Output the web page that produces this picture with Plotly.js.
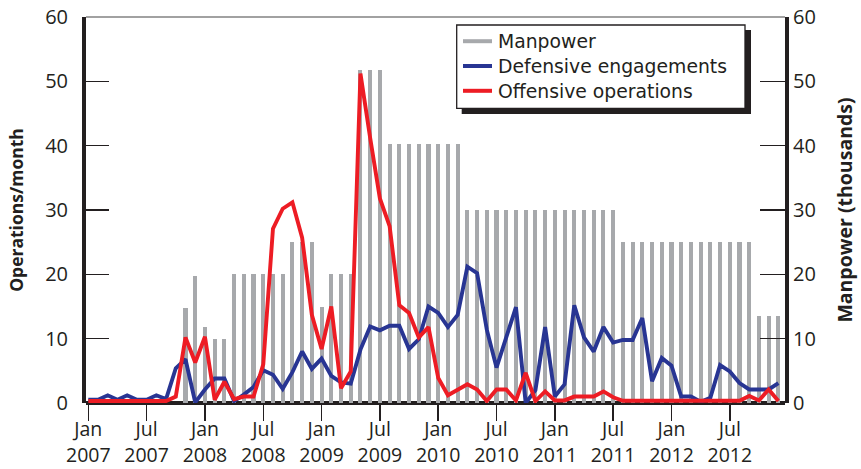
<!DOCTYPE html>
<html>
<head>
<meta charset="utf-8">
<script src="https://cdn.plot.ly/plotly-3.0.1.min.js"></script>
<style>
html,body{margin:0;padding:0;background:#fff;}
#chart{width:861px;height:469px;}
</style>
</head>
<body>
<div id="chart"></div>
<script>
// Months Jan 2007 .. Dec 2012 (categories)
const monthNames = ['Jan','Feb','Mar','Apr','May','Jun','Jul','Aug','Sep','Oct','Nov','Dec'];
const years = [2007, 2008, 2009, 2010, 2011, 2012];
const months = [];
years.forEach(y => monthNames.forEach(m => months.push(m + ' ' + y)));

// Manpower (thousands), monthly
const manpower = [
  0, 0, 0, 0, 0, 0, 0, 0, 0, 0, 14.8, 19.8,
  11.8, 10, 10, 20, 20, 20, 20, 20, 20, 25, 25, 25,
  15, 20, 20, 20, 51.8, 51.8, 51.8, 40.3, 40.3, 40.3, 40.3, 40.3,
  40.3, 40.3, 40.3, 30, 30, 30, 30, 30, 30, 30, 30, 30,
  30, 30, 30, 30, 30, 30, 30, 25, 25, 25, 25, 25,
  25, 25, 25, 25, 25, 25, 25, 25, 25, 13.6, 13.6, 13.6
];

// Defensive engagements per month
const defensive = [
  0.5, 0.5, 1.2, 0.5, 1.2, 0.5, 0.5, 1.2, 0.6, 5.4, 6.8, 0.1,
  2.1, 3.8, 3.8, 0.3, 1.3, 2.5, 5.1, 4.4, 2.2, 4.8, 8.0, 5.3,
  6.9, 4.2, 3.2, 3.0, 8.3, 11.9, 11.3, 12.0, 12.0, 8.4, 9.9, 15.0,
  14.0, 11.8, 13.7, 21.2, 20.2, 11.4, 5.5, 10.2, 14.9, 0.0, 2.0, 11.8,
  1.0, 2.9, 15.2, 10.2, 8.0, 11.8, 9.4, 9.8, 9.8, 13.2, 3.4, 7.0,
  5.8, 1.0, 1.0, 0.2, 0.8, 5.9, 4.9, 3.1, 2.1, 2.1, 2.1, 3.1
];

// Offensive operations per month
const offensive = [
  0.3, 0.3, 0.3, 0.3, 0.3, 0.3, 0.3, 0.3, 0.3, 1.0, 10.2, 6.3,
  10.3, 0.5, 3.3, 0.6, 1.0, 1.0, 6.0, 27.1, 30.2, 31.2, 25.7, 13.7,
  8.4, 15.0, 2.3, 4.9, 51.2, 41.2, 31.8, 27.5, 15.2, 14.0, 10.2, 11.8,
  3.9, 1.2, 2.1, 2.9, 2.1, 0.3, 2.1, 2.1, 0.4, 4.7, 0.3, 1.8,
  0.4, 0.4, 1.0, 1.0, 1.0, 1.8, 0.9, 0.35, 0.35, 0.35, 0.35, 0.35,
  0.35, 0.35, 0.35, 0.35, 0.35, 0.35, 0.35, 0.35, 1.1, 0.4, 2.1, 0.3
];

// Tick labels on the time axis
const tickMonths = ['Jan 2007','Jul 2007','Jan 2008','Jul 2008','Jan 2009','Jul 2009',
                    'Jan 2010','Jul 2010','Jan 2011','Jul 2011','Jan 2012','Jul 2012'];
const tickLabels = tickMonths.map(s => s.replace(' ', '<br>'));

const seriesNames = ['Manpower', 'Defensive engagements', 'Offensive operations'];
const colGray = '#a7a9ac', colBlue = '#283593', colRed = '#ed1c24';
const seriesColors = [colGray, colBlue, colRed];
const ink = '#231f20';
const FONT = 'Open Sans, Noto Sans, sans-serif';
const KEYFONT = 'DejaVu Sans, Open Sans, sans-serif';

const traces = [
  { type: 'bar', x: months, y: manpower, yaxis: 'y', name: seriesNames[0],
    marker: { color: colGray, line: { width: 0 } }, width: 0.42, hoverinfo: 'skip' },
  { type: 'scatter', mode: 'lines', x: months, y: defensive, yaxis: 'y2', name: seriesNames[1],
    line: { color: colBlue, width: 3.9 } },
  { type: 'scatter', mode: 'lines', x: months, y: offensive, yaxis: 'y2', name: seriesNames[2],
    line: { color: colRed, width: 3.9 } }
];

// plot-area geometry helpers for the boxed key (paper coordinates)
const M = { l: 86, r: 76, t: 17, b: 66 };
const W = 861, H = 469;
const pw = W - M.l - M.r, ph = H - M.t - M.b;
const px = v => (v - M.l) / pw;
const py = v => (H - M.b - v) / ph;

const keyRows = [41.2, 66, 90.8];
const shapes = [
  // bottom baseline (bars overlap its top half)
  { type: 'line', xref: 'paper', yref: 'paper', x0: 0, x1: 1, y0: 0, y1: 0,
    line: { color: ink, width: 4 }, layer: 'below' },
  // thin top border
  { type: 'line', xref: 'paper', yref: 'paper', x0: 0, x1: 1, y0: 1, y1: 1,
    line: { color: '#444', width: 1.2 }, layer: 'above' },
  // key drop shadow
  { type: 'rect', xref: 'paper', yref: 'paper', x0: px(461.7), x1: px(751), y0: py(114), y1: py(30),
    fillcolor: ink, line: { width: 0 }, layer: 'above' },
  // key box
  { type: 'rect', xref: 'paper', yref: 'paper', x0: px(456.7), x1: px(745), y0: py(108.3), y1: py(25),
    fillcolor: '#fff', line: { color: ink, width: 1.3 }, layer: 'above' }
];
const annotations = [];
seriesNames.forEach((name, i) => {
  shapes.push({ type: 'line', xref: 'paper', yref: 'paper', x0: px(463), x1: px(492),
    y0: py(keyRows[i]), y1: py(keyRows[i]), line: { color: seriesColors[i], width: 4 }, layer: 'above' });
  annotations.push({ xref: 'paper', yref: 'paper', x: px(497), y: py(keyRows[i] + 0.5),
    xanchor: 'left', yanchor: 'middle', showarrow: false, text: name, borderpad: 0,
    font: { family: KEYFONT, size: 18.8, color: ink } });
});

const layout = {
  width: W, height: H,
  margin: { l: M.l, r: M.r, t: M.t, b: M.b, pad: 0 },
  paper_bgcolor: '#fff', plot_bgcolor: '#fff',
  font: { family: FONT, color: ink, size: 20 },
  showlegend: false,
  bargap: 0,
  xaxis: {
    type: 'category', range: [-0.237, 71.68],
    tickmode: 'array', tickvals: tickMonths, ticktext: tickLabels,
    ticks: 'outside', ticklen: 17, tickwidth: 1.5, tickcolor: ink,
    ticklabelstandoff: -8,
    showline: false, showgrid: false, zeroline: false,
    tickfont: { size: 19.5, color: ink, family: FONT }, automargin: false
  },
  // Manpower axis (right)
  yaxis: {
    side: 'right', range: [0, 60], tickvals: [0, 10, 20, 30, 40, 50, 60],
    ticks: 'inside', ticklen: 25, tickwidth: 1.5, tickcolor: ink,
    showline: true, linewidth: 4, linecolor: ink,
    showgrid: false, zeroline: false, automargin: false,
    ticklabelstandoff: 0,
    tickfont: { size: 20, color: ink, family: FONT },
    title: { text: '<b>Manpower (thousands)</b>', font: { size: 19.5, color: ink, family: FONT }, standoff: 24 }
  },
  // Operations axis (left)
  yaxis2: {
    overlaying: 'y', side: 'left', anchor: 'x', range: [0, 60], tickvals: [0, 10, 20, 30, 40, 50, 60],
    ticks: 'inside', ticklen: 23, tickwidth: 1.5, tickcolor: ink,
    showline: true, linewidth: 4, linecolor: ink,
    showgrid: false, zeroline: false, automargin: false,
    ticklabelstandoff: 10,
    tickfont: { size: 20, color: ink, family: FONT },
    title: { text: '<b>Operations/month</b>', font: { size: 17.5, color: ink, family: FONT }, standoff: 18 }
  },
  shapes: shapes,
  annotations: annotations
};

Plotly.newPlot('chart', traces, layout, { staticPlot: true, displayModeBar: false });
</script>
</body>
</html>
